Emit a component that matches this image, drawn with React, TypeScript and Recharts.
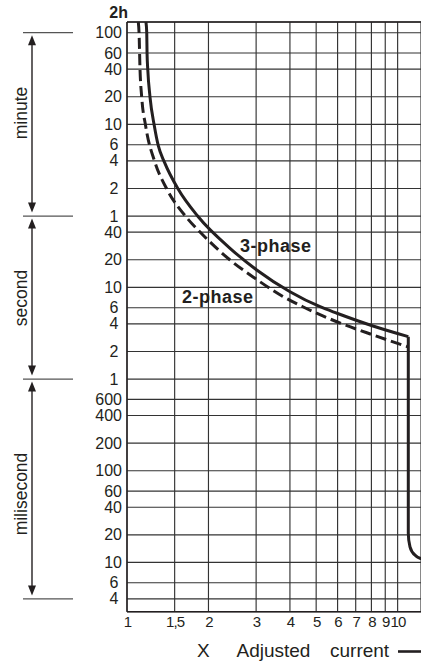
import React from "react";
import { LineChart, Line, XAxis, YAxis, CartesianGrid, ReferenceLine } from "recharts";

// multiples of the adjusted current
const X_TICKS = [1, 1.5, 2, 3, 4, 5, 6, 7, 8, 9, 10];
const X_LABELS = ["1", "1,5", "2", "3", "4", "5", "6", "7", "8", "9", "10"];

// trip time ticks, all in seconds (minute / second / millisecond bands)
const T_TICKS = [
  6000, 3600, 2400, 1200, 600, 360, 240, 120, 60,
  40, 20, 10, 6, 4, 2, 1,
  0.6, 0.4, 0.2, 0.1, 0.06, 0.04, 0.02, 0.01, 0.006, 0.004,
];
const T_LABELS = [
  "100", "60", "40", "20", "10", "6", "4", "2", "1",
  "40", "20", "10", "6", "4", "2", "1",
  "600", "400", "200", "100", "60", "40", "20", "10", "6", "4",
];

// 3-phase curve (solid)
const PHASE3_I = [1.175, 1.183, 1.186, 1.193, 1.216, 1.262, 1.305, 1.376, 1.543, 1.83, 2.403, 3.015, 4.003, 5.168, 5.97, 8.11, 10.95];
const PHASE3_T = [7850, 6000, 3600, 2410, 1200, 576, 351, 231, 119, 59.3, 26.7, 15.5, 8.97, 6.15, 5.22, 3.79, 2.9];
// instantaneous part of the same curve
const DROP_I = [10.95, 10.95, 11.11, 11.6, 12.1, 12.6];
const DROP_T = [2.9, 0.0208, 0.0148, 0.012, 0.0111, 0.0108];
// 2-phase curve (dashed)
const PHASE2_I = [1.101, 1.108, 1.117, 1.133, 1.172, 1.269, 1.402, 1.666, 1.861, 2.403, 2.972, 3.781, 4.483, 5.957, 8.13, 10.9];
const PHASE2_T = [7850, 6000, 2410, 1200, 576, 231, 119, 57.1, 40.2, 19.9, 12.56, 7.91, 6.11, 4.22, 3.02, 2.25];

const BANDS = ["minute", "second", "milisecond"];
const BAND_EDGES = [6000, 60, 1, 0.004];
const BAND_LABEL_Y = [113, 298, 494];

const I_MIN = 1;
const I_MAX = 12.2;
const T_MIN = 0.0029;
const T_MAX = 7850;

const W = 421;
const H = 670;
const PLOT = { left: 127, top: 22, bottom: 611.7 };
const X_AXIS_H = 40;

const INK = "#231f20";
const FONT = "'Liberation Sans', Arial, Helvetica, sans-serif";

const toPoints = (xs: number[], ts: number[]) => xs.map((i, k) => ({ i, t: ts[k] }));
const phase3 = toPoints(PHASE3_I, PHASE3_T);
const drop = toPoints(DROP_I, DROP_T);
const phase2 = toPoints(PHASE2_I, PHASE2_T);

const yOf = (t: number) =>
  PLOT.top +
  ((Math.log10(T_MAX) - Math.log10(t)) / (Math.log10(T_MAX) - Math.log10(T_MIN))) *
    (PLOT.bottom - PLOT.top);

const labelFor = (v: number) => {
  const k = T_TICKS.findIndex((t) => Math.abs(Math.log10(t) - Math.log10(v)) < 1e-6);
  return k >= 0 ? T_LABELS[k] : "";
};

const YTick = (props: any) => {
  const { x, y, payload } = props;
  const label = labelFor(payload.value);
  return (
    <text
      x={x - (label.length === 1 ? 8.5 : 5)}
      y={y + 5.6}
      textAnchor="end"
      fontSize={16}
      fontFamily={FONT}
      fill={INK}
    >
      {label}
    </text>
  );
};

const XTick = (props: any) => {
  const { x, y, payload } = props;
  const k = X_TICKS.indexOf(payload.value);
  return (
    <text
      x={x + 0.5}
      y={y + 15.5}
      textAnchor="middle"
      fontSize={15}
      letterSpacing={-0.8}
      fontFamily={FONT}
      fill={INK}
    >
      {k >= 0 ? X_LABELS[k] : ""}
    </text>
  );
};

const Arrow = ({ y1, y2 }: { y1: number; y2: number }) => {
  const x = 32;
  const a = y1 + 2.5;
  const b = y2 - 3.5;
  return (
    <g fill={INK} stroke="none">
      <line x1={x} y1={a + 6} x2={x} y2={b - 6} stroke={INK} strokeWidth={1.4} />
      <polygon points={`${x},${a} ${x - 4},${a + 10} ${x + 4},${a + 10}`} />
      <polygon points={`${x},${b} ${x - 4},${b - 10} ${x + 4},${b - 10}`} />
    </g>
  );
};

export default function App() {
  return (
    <div style={{ position: "absolute", left: 0, top: 0, width: W, height: H, background: "#fff", overflow: "hidden" }}>
      <LineChart
        width={W}
        height={H}
        margin={{ top: PLOT.top, right: 0, left: 0, bottom: H - PLOT.bottom - X_AXIS_H }}
      >
        <CartesianGrid stroke="#333" strokeWidth={1.15} />
        <XAxis
          type="number"
          dataKey="i"
          scale="log"
          domain={[I_MIN, I_MAX]}
          allowDataOverflow
          ticks={X_TICKS}
          interval={0}
          height={X_AXIS_H}
          tickLine={false}
          tickSize={0}
          tickMargin={0}
          axisLine={{ stroke: INK, strokeWidth: 1.4 }}
          tick={<XTick />}
        />
        <YAxis
          type="number"
          dataKey="t"
          scale="log"
          domain={[T_MIN, T_MAX]}
          allowDataOverflow
          ticks={T_TICKS}
          interval={0}
          width={PLOT.left}
          tickLine={false}
          tickSize={0}
          tickMargin={0}
          axisLine={{ stroke: INK, strokeWidth: 1.4 }}
          tick={<YTick />}
        />
        <ReferenceLine y={T_MAX} stroke={INK} strokeWidth={1.3} />
        <Line
          data={phase2}
          dataKey="t"
          type="monotone"
          stroke={INK}
          strokeWidth={3}
          strokeDasharray="11 5"
          dot={false}
          isAnimationActive={false}
        />
        <Line
          data={phase3}
          dataKey="t"
          type="monotone"
          stroke={INK}
          strokeWidth={3}
          dot={false}
          isAnimationActive={false}
        />
        <Line
          data={drop}
          dataKey="t"
          type="monotoneY"
          stroke={INK}
          strokeWidth={3}
          dot={false}
          isAnimationActive={false}
        />
      </LineChart>

      <svg
        width={W}
        height={H}
        style={{ position: "absolute", left: 0, top: 0, pointerEvents: "none" }}
        fontFamily={FONT}
      >
        <text x={128} y={18} textAnchor="end" fontSize={16} fontWeight="bold" fill={INK}>
          2h
        </text>

        {BAND_EDGES.map((t) => (
          <line key={t} x1={23} x2={73} y1={yOf(t)} y2={yOf(t)} stroke="#555" strokeWidth={1.3} />
        ))}
        {BANDS.map((name, k) => (
          <g key={name}>
            <Arrow y1={yOf(BAND_EDGES[k])} y2={yOf(BAND_EDGES[k + 1])} />
            <text
              transform={`translate(27, ${BAND_LABEL_Y[k]}) rotate(-90)`}
              textAnchor="middle"
              fontSize={17.5}
              fill={INK}
            >
              {name}
            </text>
          </g>
        ))}

        <text x={240} y={252} fontSize={18} fontWeight="bold" letterSpacing={0.5} fill={INK}>
          3-phase
        </text>
        <text x={182} y={303} fontSize={18} fontWeight="bold" letterSpacing={0.5} fill={INK}>
          2-phase
        </text>

        <text x={197} y={657} fontSize={19} fill={INK}>X</text>
        <text x={236.5} y={657} fontSize={19} fill={INK}>Adjusted</text>
        <text x={330} y={657} fontSize={19} fill={INK}>current</text>
        <line x1={398} x2={W} y1={651.5} y2={651.5} stroke={INK} strokeWidth={2.6} />
      </svg>
    </div>
  );
}
